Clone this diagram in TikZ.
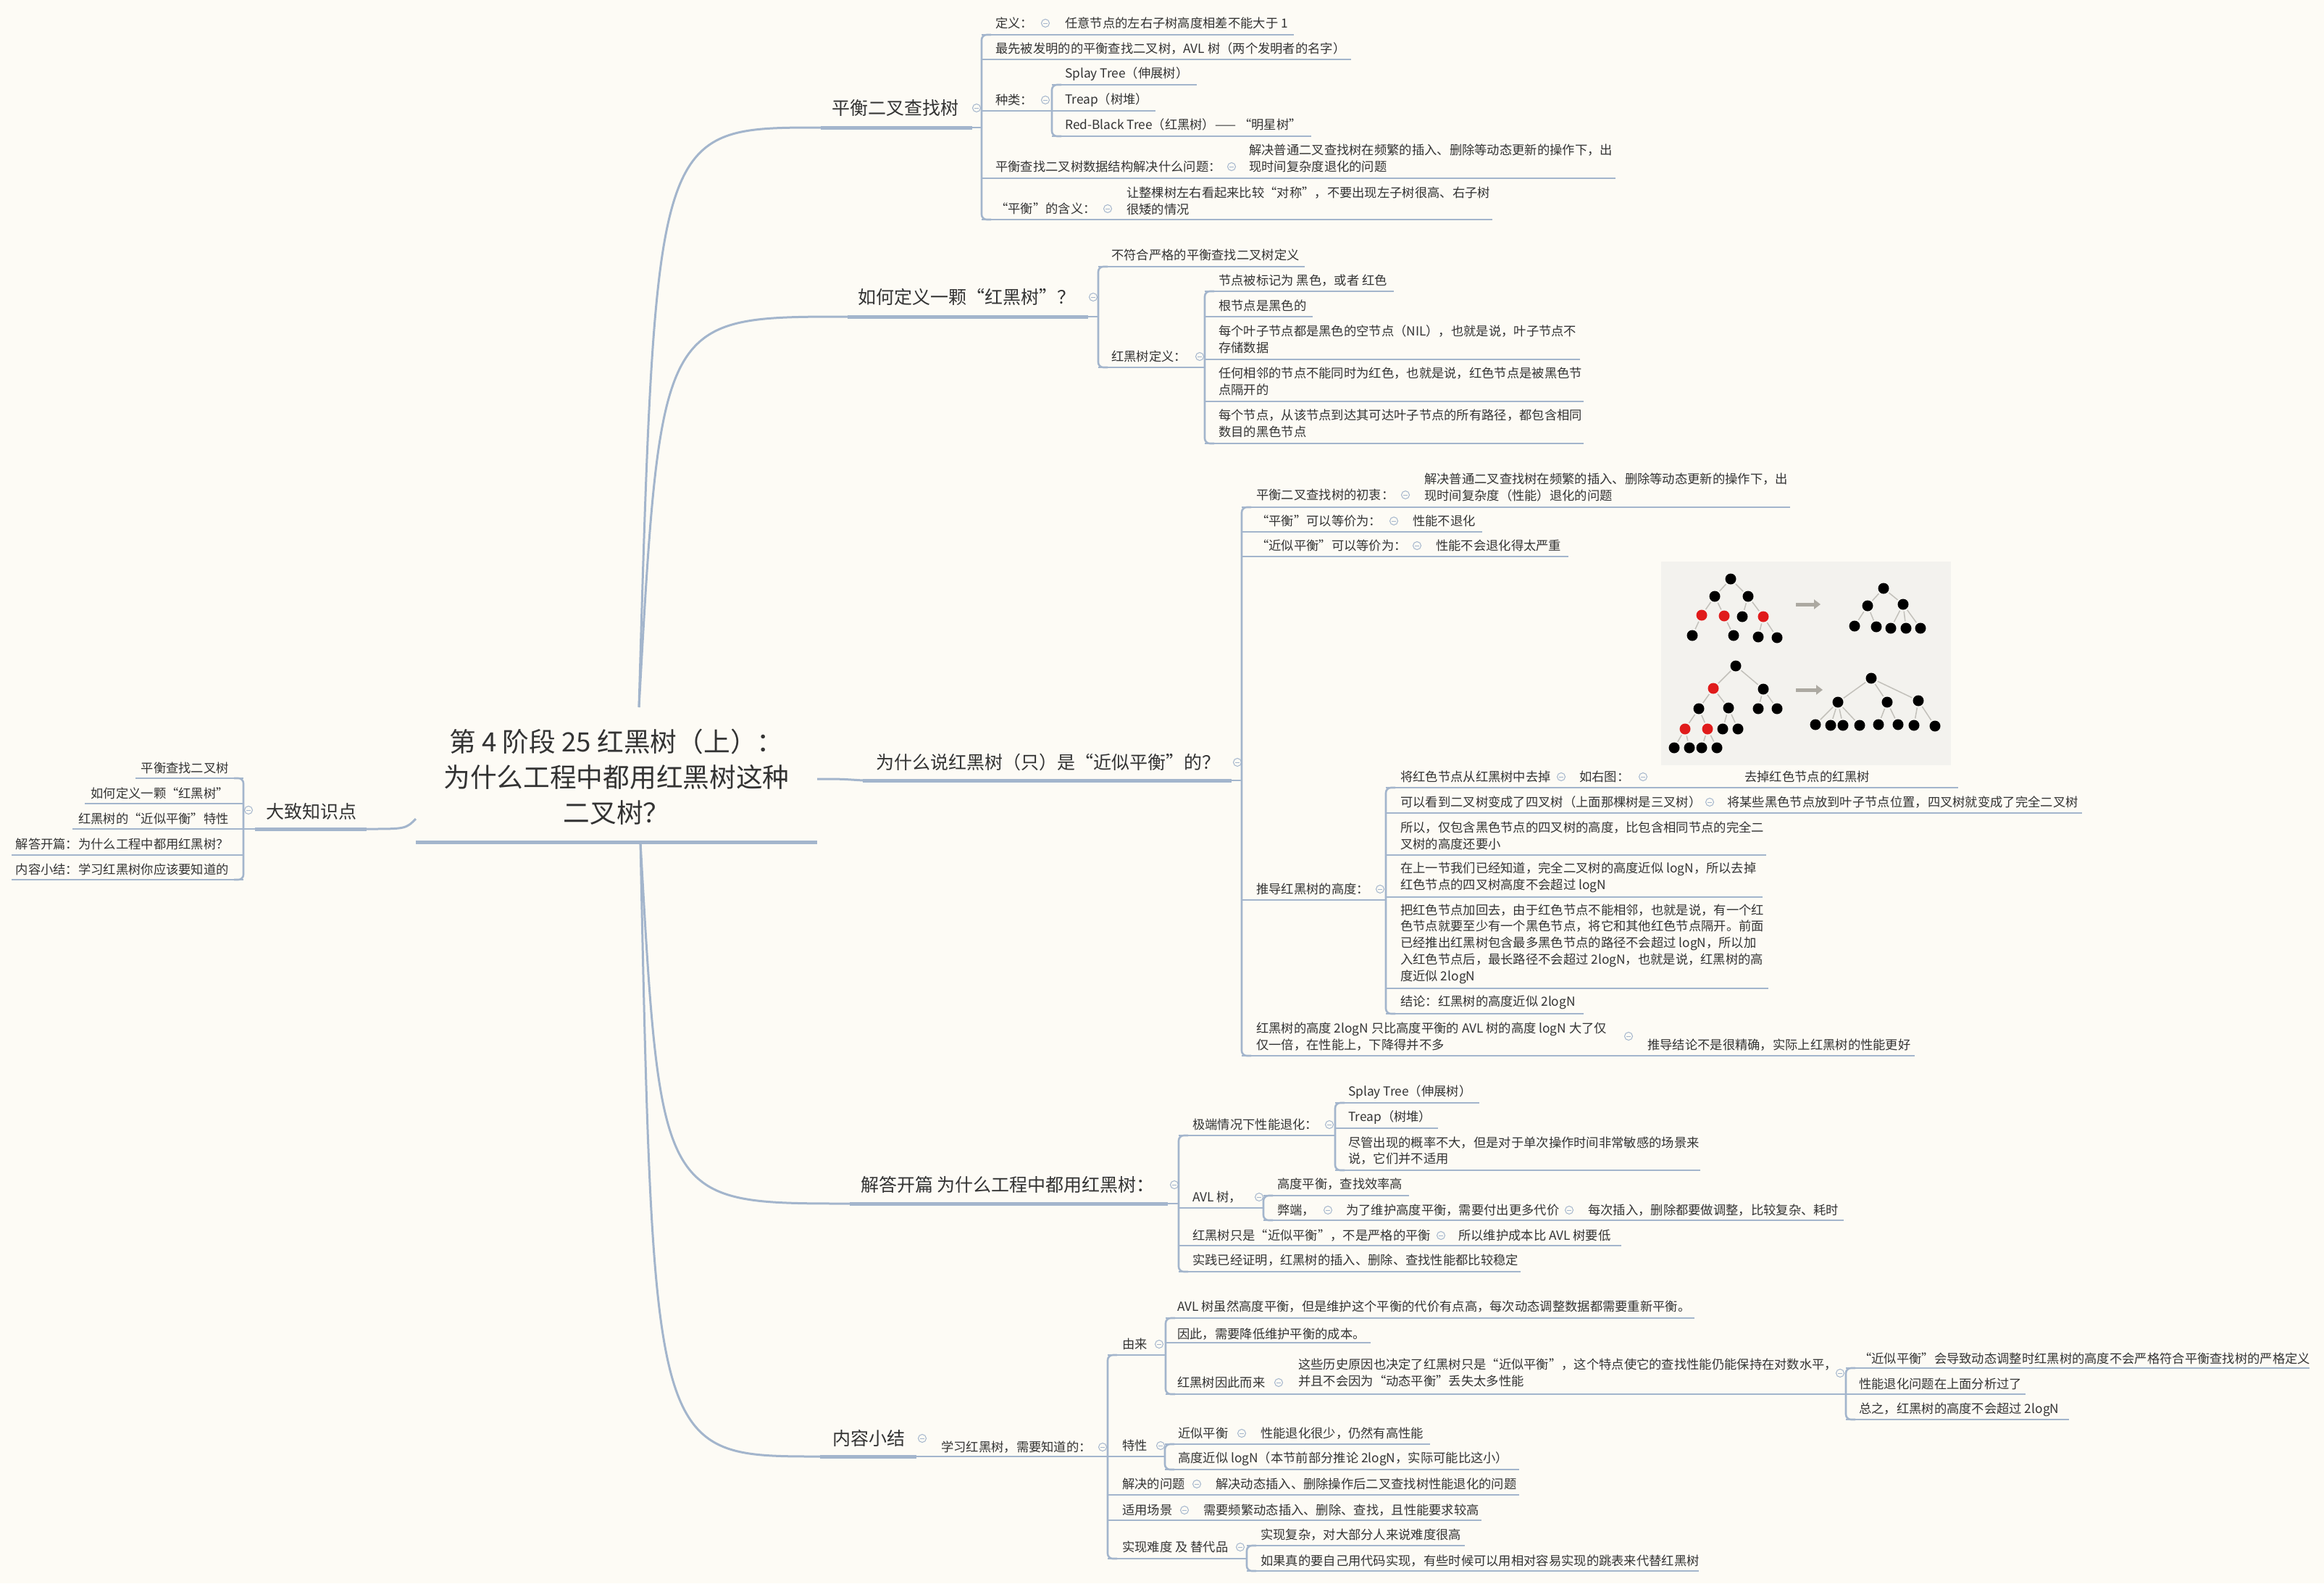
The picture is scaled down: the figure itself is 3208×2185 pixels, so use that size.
\documentclass[tikz,border=0pt]{standalone}
\usepackage{fontspec}
\setmainfont{Noto Sans CJK SC}
\usetikzlibrary{arrows.meta}

\definecolor{paper}{HTML}{FDFBF5}
\definecolor{wire}{HTML}{A3B5CC}
\definecolor{ink}{HTML}{333333}
\definecolor{figbg}{HTML}{F3F2EE}
\definecolor{rednode}{HTML}{E01B1B}
\definecolor{figedge}{HTML}{C2C0BA}
\definecolor{figarrow}{HTML}{ACA9A1}

\newcommand\fsmall{\fontsize{17.3pt}{22.8pt}\selectfont}
\newcommand\fbranch{\fontsize{25pt}{30pt}\selectfont}
\newcommand\ftitle{\fontsize{36.7pt}{49pt}\selectfont}

\tikzset{
  txt/.style={anchor=west, inner sep=0pt, text=ink, font=\fsmall, align=left},
  txtr/.style={txt, anchor=east, align=right},
  branch/.style={txt, font=\fbranch},
  central/.style={inner sep=0pt, text=ink, font=\ftitle, align=center},
  uline/.style={draw=wire, line width=2.6pt},
  mainul/.style={draw=wire, line width=5pt},
  bracket/.style={draw=wire, line width=2.6pt, rounded corners=7pt},
  trunk/.style={draw=wire, line width=3pt},
  fold/.pic={\draw[wire, line width=1pt, fill=paper] (0,0) circle (5.5pt);
             \draw[wire, line width=1pt] (-3,0) -- (3,0);},
  bnode/.style={circle, fill=black, minimum size=15pt, inner sep=0pt},
  rnode/.style={bnode, fill=rednode},
  figline/.style={draw=figedge, line width=1.5pt, shorten <=2pt, shorten >=2pt},
  figarr/.style={draw=figarrow, line width=5pt, -{Triangle[length=9pt,width=13pt]}},
}

\begin{document}
\begin{tikzpicture}[x=1pt,y=-1pt]
\useasboundingbox (0,0) rectangle (3208,2185);
\fill[paper] (0,0) rectangle (3208,2185);

% ---------- central topic ----------
\node[central] (root) at (851,1072) {第 4 阶段 25 红黑树（上）：\\为什么工程中都用红黑树这种\\二叉树？};
\draw[mainul] (574,1162) -- (1128,1162);
\coordinate (hubN) at (882,976);
\coordinate (hubS) at (884,1162);
\coordinate (hubE) at (1128,1075);
\coordinate (hubW) at (574,1130);

% ---------- main branches ----------
\node[branch] (bst) at (1148,149) {平衡二叉查找树};
\coordinate (bstL) at (1133,176);
\draw[mainul] (bstL) -- (1342,176);
\draw[uline] (1342,176) -- (1355,176);
\pic at (1348,149) {fold};
\draw[trunk] (hubN) .. controls (905,176) .. (bstL);

\node[branch] (def) at (1184,410) {如何定义一颗“红黑树”？};
\coordinate (defL) at (1170,437);
\draw[mainul] (defL) -- (1502,437);
\draw[uline] (1502,437) -- (1516,437);
\pic at (1509,410) {fold};
\draw[trunk] (hubN) .. controls (912,437) .. (defL);

\node[branch] (why) at (1209,1052) {为什么说红黑树（只）是“近似平衡”的？};
\coordinate (whyL) at (1191,1077);
\draw[mainul] (whyL) -- (1700,1077);
\draw[uline] (1700,1077) -- (1714,1077);
\pic at (1708,1052) {fold};
\draw[trunk] (hubE) .. controls (1160,1075) .. (whyL);

\node[branch] (ans) at (1188,1635) {解答开篇 为什么工程中都用红黑树：};
\coordinate (ansL) at (1173,1661);
\draw[mainul] (ansL) -- (1612,1661);
\draw[uline] (1612,1661) -- (1627,1661);
\pic at (1621,1635) {fold};
\draw[trunk] (hubS) .. controls (912,1661) .. (ansL);

\node[branch] (sum) at (1149,1985) {内容小结};
\coordinate (sumL) at (1132,2010);
\draw[mainul] (sumL) -- (1265,2010);
\pic at (1273,1985) {fold};
\draw[trunk] (hubS) .. controls (902,2010) .. (sumL);

\node[branch] (ovw) at (367,1120) {大致知识点};
\coordinate (ovwR) at (506,1144);
\draw[mainul] (352,1144) -- (ovwR);
\draw[uline] (336,1144) -- (352,1144);
\pic at (343,1118) {fold};
\draw[trunk] (hubW) .. controls (560,1144) .. (ovwR);

% ---------- overview list (left) ----------
\draw[bracket] (323,1074) -- (336,1074) -- (336,1214) -- (323,1214);
\node[txtr] (o1) at (316,1060) {平衡查找二叉树};
\draw[uline] (187,1074) -- (336,1074);
\node[txtr] (o2) at (316,1095) {如何定义一颗“红黑树”};
\draw[uline] (117,1109) -- (336,1109);
\node[txtr] (o3) at (316,1130) {红黑树的“近似平衡”特性};
\draw[uline] (100,1144) -- (336,1144);
\node[txtr] (o4) at (316,1165) {解答开篇：为什么工程中都用红黑树？};
\draw[uline] (16,1180) -- (336,1180);
\node[txtr] (o5) at (316,1200) {内容小结：学习红黑树你应该要知道的};
\draw[uline] (16,1214) -- (336,1214);

% ---------- balanced search tree ----------
\draw[bracket] (1368,48) -- (1355,48) -- (1355,303) -- (1368,303);
\node[txt] (a1) at (1374,32) {定义：};
\pic at (1443,32) {fold};
\node[txt] (a1c) at (1470,32) {任意节点的左右子树高度相差不能大于 1};
\draw[uline] (1355,48) -- (1786,48);
\node[txt] (a2) at (1374,67) {最先被发明的的平衡查找二叉树，AVL 树（两个发明者的名字）};
\draw[uline] (1355,82) -- (1865,82);
\node[txt] (a3) at (1374,138) {种类：};
\pic at (1443,138) {fold};
\draw[uline] (1355,153) -- (1452,153);
\draw[bracket] (1465,117) -- (1452,117) -- (1452,188) -- (1465,188);
\node[txt] (a31) at (1470,102) {Splay Tree（伸展树）};
\draw[uline] (1452,117) -- (1652,117);
\node[txt] (a32) at (1470,138) {Treap（树堆）};
\draw[uline] (1452,153) -- (1595,153);
\node[txt] (a33) at (1470,172) {Red-Black Tree（红黑树）—— “明星树”};
\draw[uline] (1452,188) -- (1810,188);
\node[txt] (a4) at (1374,230) {平衡查找二叉树数据结构解决什么问题：};
\pic at (1700,230) {fold};
\node[txt] (a4c) at (1724,218.5) {解决普通二叉查找树在频繁的插入、删除等动态更新的操作下，出\\现时间复杂度退化的问题};
\draw[uline] (1355,246) -- (2230,246);
\node[txt] (a5) at (1374,288) {“平衡”的含义：};
\pic at (1529,288) {fold};
\node[txt] (a5c) at (1555,277) {让整棵树左右看起来比较“对称”，不要出现左子树很高、右子树\\很矮的情况};
\draw[uline] (1355,303) -- (2060,303);

% ---------- definition ----------
\draw[bracket] (1529,368) -- (1516,368) -- (1516,507) -- (1529,507);
\node[txt] (b1) at (1534,352) {不符合严格的平衡查找二叉树定义};
\draw[uline] (1516,368) -- (1801,368);
\node[txt] (b2) at (1534,492) {红黑树定义：};
\pic at (1656,492) {fold};
\draw[uline] (1516,507) -- (1663,507);
\draw[bracket] (1676,402) -- (1663,402) -- (1663,612) -- (1676,612);
\node[txt] (b21) at (1682,387) {节点被标记为 黑色，或者 红色};
\draw[uline] (1663,402) -- (1924,402);
\node[txt] (b22) at (1682,422) {根节点是黑色的};
\draw[uline] (1663,437) -- (1812,437);
\node[txt] (b23) at (1682,468.5) {每个叶子节点都是黑色的空节点（NIL），也就是说，叶子节点不\\存储数据};
\draw[uline] (1663,496) -- (2181,496);
\node[txt] (b24) at (1682,526.5) {任何相邻的节点不能同时为红色，也就是说，红色节点是被黑色节\\点隔开的};
\draw[uline] (1663,554) -- (2186,554);
\node[txt] (b25) at (1682,584.5) {每个节点，从该节点到达其可达叶子节点的所有路径，都包含相同\\数目的黑色节点};
\draw[uline] (1663,612) -- (2186,612);

% ---------- approximate balance ----------
\draw[bracket] (1727,700) -- (1714,700) -- (1714,1457) -- (1727,1457);
\node[txt] (c1) at (1734,683) {平衡二叉查找树的初衷：};
\pic at (1940,683) {fold};
\node[txt] (c1c) at (1966,672.5) {解决普通二叉查找树在频繁的插入、删除等动态更新的操作下，出\\现时间复杂度（性能）退化的问题};
\draw[uline] (1714,700) -- (2471,700);
\node[txt] (c2) at (1734,719) {“平衡”可以等价为：};
\pic at (1924,719) {fold};
\node[txt] (c2c) at (1950,719) {性能不退化};
\draw[uline] (1714,734) -- (2046,734);
\node[txt] (c3) at (1734,753) {“近似平衡”可以等价为：};
\pic at (1956,753) {fold};
\node[txt] (c3c) at (1982,753) {性能不会退化得太严重};
\draw[uline] (1714,768) -- (2165,768);
\node[txt] (c4) at (1734,1227) {推导红黑树的高度：};
\pic at (1905,1227) {fold};
\draw[uline] (1714,1242) -- (1913,1242);
\draw[bracket] (1926,1087) -- (1913,1087) -- (1913,1399) -- (1926,1399);
\node[txt] (c41) at (1933,1072) {将红色节点从红黑树中去掉};
\pic at (2155,1072) {fold};
\node[txt] (c41b) at (2180,1072) {如右图：};
\pic at (2268,1072) {fold};
\node[txt] (c41c) at (2408,1072) {去掉红色节点的红黑树};
\draw[uline] (1913,1087) -- (2703,1087);
\node[txt] (c42) at (1933,1107) {可以看到二叉树变成了四叉树（上面那棵树是三叉树）};
\pic at (2360,1107) {fold};
\node[txt] (c42b) at (2384,1107) {将某些黑色节点放到叶子节点位置，四叉树就变成了完全二叉树};
\draw[uline] (1913,1122) -- (2874,1122);
\node[txt] (c43) at (1933,1153) {所以，仅包含黑色节点的四叉树的高度，比包含相同节点的完全二\\叉树的高度还要小};
\draw[uline] (1913,1180) -- (2438,1180);
\node[txt] (c44) at (1933,1211) {在上一节我们已经知道，完全二叉树的高度近似 logN，所以去掉\\红色节点的四叉树高度不会超过 logN};
\draw[uline] (1913,1238) -- (2433,1238);
\node[txt] (c45) at (1933,1302.5) {把红色节点加回去，由于红色节点不能相邻，也就是说，有一个红\\色节点就要至少有一个黑色节点，将它和其他红色节点隔开。前面\\已经推出红黑树包含最多黑色节点的路径不会超过 logN，所以加\\入红色节点后，最长路径不会超过 2logN，也就是说，红黑树的高\\度近似 2logN};
\draw[uline] (1913,1364) -- (2441,1364);
\node[txt] (c46) at (1933,1383) {结论：红黑树的高度近似 2logN};
\draw[uline] (1913,1399) -- (2186,1399);
\node[txt] (c5) at (1734,1430.5) {红黑树的高度 2logN 只比高度平衡的 AVL 树的高度 logN 大了仅\\仅一倍，在性能上，下降得并不多};
\pic at (2248,1430) {fold};
\node[txt] (c5c) at (2274,1442) {推导结论不是很精确，实际上红黑树的性能更好};
\draw[uline] (1714,1457) -- (2643,1457);

% red-black tree figure
\fill[figbg] (2293,775) rectangle (2693,1056);
\foreach \n/\x/\y in {A0/2389/799, A1/2367/823, A2/2413/823, A5/2405/851, A7/2336/877, A8/2393/877, A9/2427/879, A10/2453/880,
  B0/2600/812, B1/2578/836, B2/2627/834, B3/2560/864, B4/2590/865, B5/2610/867, B6/2631/867, B7/2651/867,
  C0/2396/919, C2/2434/951, C3/2345/978, C4/2386/977, C5/2427/978, C6/2453/978, C9/2378/1006, C10/2399/1006,
  C11/2311/1032, C12/2332/1032, C13/2349/1032, C14/2370/1032,
  D0/2583/936, D1/2537/969, D2/2605/969, D3/2648/967, D4/2506/1000, D5/2527/1001, D6/2544/1001, D7/2567/1001,
  D8/2593/1000, D9/2620/1000, D10/2642/1001, D11/2671/1002}
  \node[bnode] (\n) at (\x,\y) {};
\foreach \n/\x/\y in {A3/2349/849, A4/2380/850, A6/2434/851, C1/2365/950, C7/2326/1006, C8/2357/1006}
  \node[rnode] (\n) at (\x,\y) {};
\foreach \a/\b in {A0/A1, A0/A2, A1/A3, A1/A4, A2/A5, A2/A6, A3/A7, A4/A8, A6/A9, A6/A10,
  B0/B1, B0/B2, B1/B3, B1/B4, B2/B5, B2/B6, B2/B7,
  C0/C1, C0/C2, C1/C3, C1/C4, C2/C5, C2/C6, C3/C7, C3/C8, C4/C9, C4/C10, C7/C11, C7/C12, C8/C13, C8/C14,
  D0/D1, D0/D2, D0/D3, D1/D4, D1/D5, D1/D6, D1/D7, D2/D8, D2/D9, D3/D10, D3/D11}
  \draw[figline] (\a) -- (\b);
\coordinate (arrA1) at (2479,834);
\coordinate (arrA2) at (2513,834);
\coordinate (arrB1) at (2479,952);
\coordinate (arrB2) at (2516,952);
\draw[figarr] (arrA1) -- (arrA2);
\draw[figarr] (arrB1) -- (arrB2);

% ---------- why engineering uses red-black trees ----------
\draw[bracket] (1640,1567) -- (1627,1567) -- (1627,1755) -- (1640,1755);
\node[txt] (d1) at (1646,1552) {极端情况下性能退化：};
\pic at (1835,1552) {fold};
\draw[uline] (1627,1567) -- (1843,1567);
\draw[bracket] (1856,1522) -- (1843,1522) -- (1843,1615) -- (1856,1615);
\node[txt] (d11) at (1861,1507) {Splay Tree（伸展树）};
\draw[uline] (1843,1522) -- (2042,1522);
\node[txt] (d12) at (1861,1542) {Treap（树堆）};
\draw[uline] (1843,1557) -- (1985,1557);
\node[txt] (d13) at (1861,1588) {尽管出现的概率不大，但是对于单次操作时间非常敏感的场景来\\说，它们并不适用};
\draw[uline] (1843,1615) -- (2347,1615);
\node[txt] (d2) at (1646,1652) {AVL 树，};
\pic at (1738,1652) {fold};
\draw[uline] (1627,1667) -- (1744,1667);
\draw[bracket] (1757,1650) -- (1744,1650) -- (1744,1684) -- (1757,1684);
\node[txt] (d21) at (1763,1634) {高度平衡，查找效率高};
\draw[uline] (1744,1650) -- (1945,1650);
\node[txt] (d22) at (1763,1670) {弊端，};
\pic at (1833,1670) {fold};
\node[txt] (d22b) at (1858,1670) {为了维护高度平衡，需要付出更多代价};
\pic at (2166,1670) {fold};
\node[txt] (d22c) at (2192,1670) {每次插入，删除都要做调整，比较复杂、耗时};
\draw[uline] (1744,1684) -- (2545,1684);
\node[txt] (d3) at (1646,1705) {红黑树只是“近似平衡”，不是严格的平衡};
\pic at (1989,1705) {fold};
\node[txt] (d3b) at (2013,1705) {所以维护成本比 AVL 树要低};
\draw[uline] (1627,1719) -- (2238,1719);
\node[txt] (d4) at (1646,1739) {实践已经证明，红黑树的插入、删除、查找性能都比较稳定};
\draw[uline] (1627,1755) -- (2099,1755);

% ---------- summary ----------
\node[txt] (e) at (1299,1997) {学习红黑树，需要知道的：};
\pic at (1522,1997) {fold};
\draw[uline] (1265,2010) -- (1529,2010);
\draw[bracket] (1542,1870) -- (1529,1870) -- (1529,2151) -- (1542,2151);

\node[txt] (f1) at (1549,1855) {由来};
\pic at (1600,1855) {fold};
\draw[uline] (1529,1870) -- (1609,1870);
\draw[bracket] (1622,1819) -- (1609,1819) -- (1609,1924) -- (1622,1924);
\node[txt] (f11) at (1625,1803) {AVL 树虽然高度平衡，但是维护这个平衡的代价有点高，每次动态调整数据都需要重新平衡。};
\draw[uline] (1609,1819) -- (2339,1819);
\node[txt] (f12) at (1625,1841) {因此，需要降低维护平衡的成本。};
\draw[uline] (1609,1853) -- (1892,1853);
\node[txt] (f13) at (1625,1908) {红黑树因此而来};
\pic at (1765,1908) {fold};
\node[txt] (f13b) at (1792,1894) {这些历史原因也决定了红黑树只是“近似平衡”，这个特点使它的查找性能仍能保持在对数水平，\\并且不会因为“动态平衡”丢失太多性能};
\pic at (2540,1895) {fold};
\draw[uline] (1609,1924) -- (2548,1924);
\draw[bracket] (2561,1888) -- (2548,1888) -- (2548,1959) -- (2561,1959);
\node[txt] (f131) at (2566,1875) {“近似平衡”会导致动态调整时红黑树的高度不会严格符合平衡查找树的严格定义};
\draw[uline] (2548,1888) -- (3188,1888);
\node[txt] (f132) at (2566,1910) {性能退化问题在上面分析过了};
\draw[uline] (2548,1924) -- (2796,1924);
\node[txt] (f133) at (2566,1945) {总之，红黑树的高度不会超过 2logN};
\draw[uline] (2548,1959) -- (2856,1959);

\node[txt] (f2) at (1549,1995) {特性};
\pic at (1602,1995) {fold};
\draw[uline] (1529,2010) -- (1608,2010);
\draw[bracket] (1621,1993) -- (1608,1993) -- (1608,2028) -- (1621,2028);
\node[txt] (f21) at (1626,1978) {近似平衡};
\pic at (1714,1978) {fold};
\node[txt] (f21b) at (1740,1978) {性能退化很少，仍然有高性能};
\draw[uline] (1608,1993) -- (1974,1993);
\node[txt] (f22) at (1626,2013) {高度近似 logN（本节前部分推论 2logN，实际可能比这小）};
\draw[uline] (1608,2028) -- (2097,2028);

\node[txt] (f3) at (1549,2048) {解决的问题};
\pic at (1652,2048) {fold};
\node[txt] (f3b) at (1678,2048) {解决动态插入、删除操作后二叉查找树性能退化的问题};
\draw[uline] (1529,2063) -- (2097,2063);

\node[txt] (f4) at (1549,2084) {适用场景};
\pic at (1635,2084) {fold};
\node[txt] (f4b) at (1661,2084) {需要频繁动态插入、删除、查找，且性能要求较高};
\draw[uline] (1529,2098) -- (2045,2098);

\node[txt] (f5) at (1549,2135) {实现难度 及 替代品};
\pic at (1712,2135) {fold};
\draw[uline] (1529,2151) -- (1721,2151);
\draw[bracket] (1734,2133) -- (1721,2133) -- (1721,2168) -- (1734,2168);
\node[txt] (f51) at (1740,2118) {实现复杂，对大部分人来说难度很高};
\draw[uline] (1721,2133) -- (2022,2133);
\node[txt] (f52) at (1740,2154) {如果真的要自己用代码实现，有些时候可以用相对容易实现的跳表来代替红黑树};
\draw[uline] (1721,2168) -- (2345,2168);
\end{tikzpicture}
\end{document}
